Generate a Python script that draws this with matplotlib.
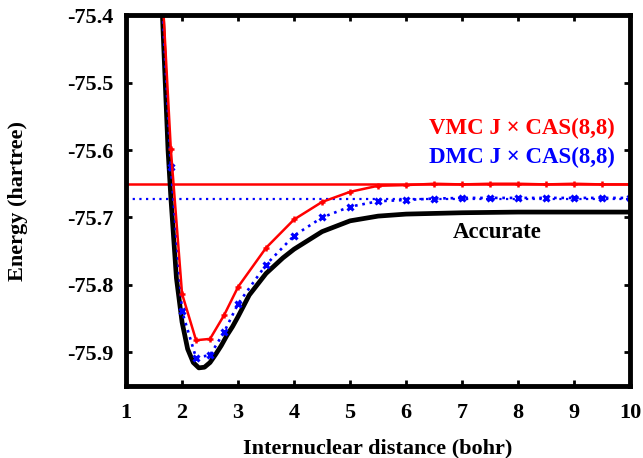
import matplotlib
matplotlib.use("Agg")
from matplotlib import pyplot as plt

# datos
r_vmc = [1.6, 1.8, 2.0, 2.25, 2.5, 2.75, 3.0, 3.5, 4.0, 4.5, 5.0, 5.5, 6.0, 6.5, 7.0, 7.5, 8.0, 8.5, 9.0, 9.5, 10.0]
e_vmc = [-75.29, -75.599, -75.813, -75.882, -75.880, -75.845, -75.803, -75.745, -75.703, -75.677, -75.662,
         -75.653, -75.652, -75.650, -75.651, -75.650, -75.650, -75.651, -75.650, -75.651, -75.651]

r_dmc = [1.6, 1.8, 2.0, 2.25, 2.5, 2.75, 3.0, 3.5, 4.0, 4.5, 5.0, 5.5, 6.0, 6.5, 7.0, 7.5, 8.0, 8.5, 9.0, 9.5, 10.0]
e_dmc = [-75.31, -75.625, -75.839, -75.908, -75.904, -75.870, -75.828, -75.770, -75.727, -75.700, -75.684,
         -75.676, -75.674, -75.672, -75.671, -75.671, -75.671, -75.671, -75.671, -75.671, -75.671]

r_exacto = [1.6, 1.65, 1.7, 1.75, 1.8, 1.85, 1.9, 2.0, 2.1, 2.2, 2.3, 2.4, 2.5, 2.6, 2.7, 2.8, 2.9, 3.0,
            3.2, 3.5, 3.8, 4.0, 4.5, 5.0, 5.5, 6.0, 7.0, 8.0, 9.0, 10.0]
e_exacto = [-75.30, -75.40, -75.50, -75.60, -75.67, -75.73, -75.79, -75.855, -75.895, -75.915, -75.923,
            -75.922, -75.915, -75.903, -75.890, -75.875, -75.862, -75.847, -75.815, -75.783, -75.760,
            -75.747, -75.721, -75.705, -75.698, -75.695, -75.693, -75.692, -75.692, -75.692]

e_vmc_lim = -75.651
e_dmc_lim = -75.672

plt.rcParams["font.family"] = ["Liberation Serif", "DejaVu Serif"]
plt.rcParams["font.weight"] = "bold"

fig = plt.figure(figsize=(6.43, 4.58), dpi=100)
ax = fig.add_axes([0.196, 0.157, 0.784, 0.810])

ax.axhline(e_vmc_lim, color="red", lw=1.8)
ax.axhline(e_dmc_lim, color="blue", lw=1.6, ls=(0, (1, 2)))
ax.plot(r_exacto, e_exacto, color="black", lw=3.4)
ax.plot(r_dmc, e_dmc, color="blue", lw=1.9, ls=(0, (1, 1.8)), marker="x", ms=4, mew=2.2)
ax.plot(r_vmc, e_vmc, color="red", lw=1.8, marker="+", ms=5, mew=1.8)

# textos en coordenadas de pixel (origen abajo)
ax.text(615, 458 - 128, "VMC J × CAS(8,8)", color="red", fontsize=16.5, fontweight="bold",
        ha="right", va="center", transform=None)
ax.text(615, 458 - 157, "DMC J × CAS(8,8)", color="blue", fontsize=16.5, fontweight="bold",
        ha="right", va="center", transform=None)
ax.text(497, 458 - 233, "Accurate", color="black", fontsize=16.5, fontweight="bold",
        ha="center", va="center", transform=None)

ax.set_xlim(1, 10)
ax.set_ylim(-75.95, -75.4)
ax.set_xticks(range(1, 11))
ax.set_yticks([-75.9, -75.8, -75.7, -75.6, -75.5, -75.4])
ax.set_yticklabels(["-75.9", "-75.8", "-75.7", "-75.6", "-75.5", "-75.4"])
ax.tick_params(direction="in", length=4, width=2, top=True, right=True, labelsize=16)
ax.tick_params(axis="x", pad=12)
ax.tick_params(axis="y", pad=9)
for s in ax.spines.values():
    s.set_linewidth(3.5)

ax.set_xlabel("Internuclear distance (bohr)", fontsize=16, fontweight="bold", va="center")
ax.set_ylabel("Energy (hartree)", fontsize=16, fontweight="bold", va="center")
ax.xaxis.set_label_coords(0.5, (458 - 448 - 72) / 371)
ax.yaxis.set_label_coords((18 - 126) / 504, 0.5)

fig.savefig("out.png", dpi=100)
